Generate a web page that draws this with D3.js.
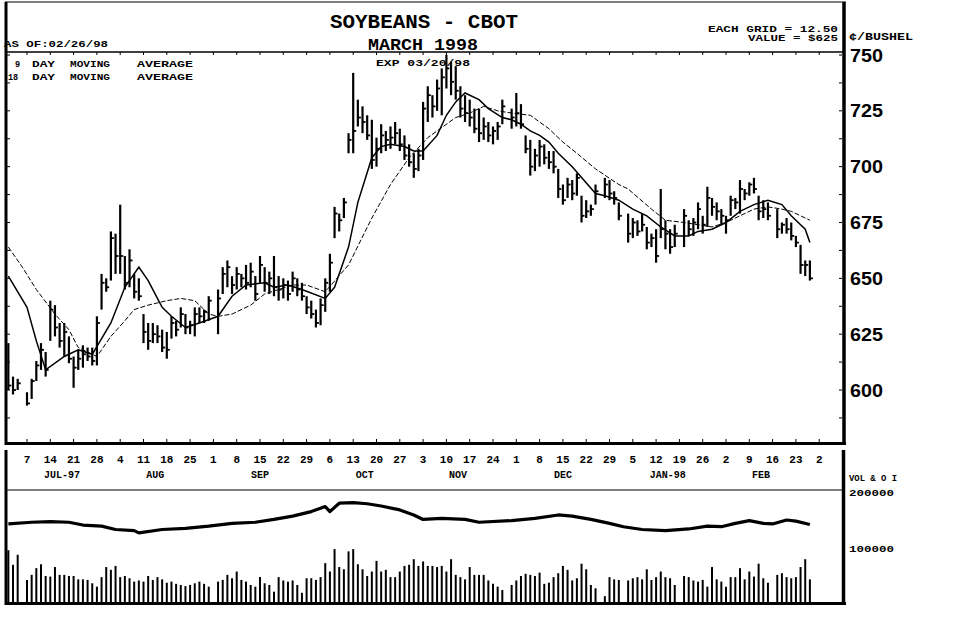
<!DOCTYPE html>
<html>
<head>
<meta charset="utf-8">
<script src="https://cdn.jsdelivr.net/npm/d3@7"></script>
<style>
  body { margin: 0; background: #fff; }
  svg text { font-family: "Liberation Mono", "DejaVu Sans Mono", monospace; font-weight: bold; fill: #000; }
</style>
</head>
<body>
<div id="chart"></div>
<script>
const W = 958, H = 618;

// daily bars, 07/01/97 .. 02/26/98, one slot per weekday (null = exchange closed)
const highs = [
  621, 606, 605, null, 599, 605, 613, 621, 617, 640,
  638, 630, 630, 624, 615, 618, 620, 619, 619, 633,
  652, 650, 671, 670, 683, 660, 663, 652, 650, 634,
  630, 630, 629, 627, 626, 633, 631, 637, 634, 631,
  637, 637, 636, 642, null, 645, 655, 658, 651, 655,
  652, 656, 657, 651, 660, 655, 653, 660, 651, 650,
  649, 653, 650, 648, 642, 640, 636, 641, 650, 661,
  682, 679, 686, 715, 742, 730, 727, 723, 721, 713,
  719, 716, 718, 720, 717, 714, 710, 706, 708, 729,
  736, 732, 739, 744, 750, 747, 745, 736, 732, 730,
  726, 726, 722, 720, 718, 720, 730, null, 726, 733,
  728, 714, 712, 708, 712, 710, 707, 707, 699, 692,
  695, 694, 697, 687, 685, 683, 692, null, 695, 694,
  689, 684, null, 679, 677, 676, 679, 673, 670, 672,
  690, 676, 672, 674, null, 681, 676, 677, 684, 678,
  691, 686, 684, 681, 678, 687, 686, 694, 690, 693,
  695, 687, 685, 684, null, 681, 675, 677, 675, 669,
  665, 658, 658
];
const lows = [
  600, 598, 600, null, 593, 596, 604, 609, 606, 622,
  624, 619, 615, 612, 601, 609, 610, 613, 611, 611,
  636, 644, 649, 652, 652, 645, 646, 641, 640, 621,
  618, 621, 621, 617, 614, 623, 624, 628, 625, 625,
  624, 630, 630, 631, null, 625, 643, 646, 643, 645,
  646, 645, 646, 640, 648, 644, 643, 642, 640, 641,
  640, 644, 642, 640, 634, 632, 628, 629, 635, 644,
  668, 671, 677, 706, 706, 718, 715, 712, 699, 700,
  706, 707, 708, 710, 707, 703, 700, 695, 698, 703,
  720, 722, 725, 723, 735, 732, 730, 722, 720, 718,
  715, 711, 712, 711, 710, 712, 719, null, 717, 718,
  717, 706, 696, 698, 700, 701, 699, 697, 686, 683,
  686, 685, 687, 675, 677, 678, 683, null, 686, 685,
  683, 676, null, 666, 668, 669, 671, 663, 664, 657,
  668, 663, 661, 664, null, 664, 669, 669, 672, 670,
  673, 678, 676, 674, 670, 678, 681, 679, 685, 687,
  688, 676, 677, 676, null, 668, 670, 670, 667, 664,
  652, 651, 649
];
const closes = [
  602, 600, 603, null, 594, 604, 611, 618, 609, 636,
  628, 622, 626, 614, 610, 614, 616, 615, 613, 630,
  648, 646, 668, 660, 660, 648, 658, 644, 642, 626,
  622, 625, 624, 619, 618, 630, 627, 634, 628, 629,
  634, 633, 635, 640, null, 641, 652, 655, 647, 652,
  650, 648, 653, 643, 656, 648, 650, 646, 645, 647,
  643, 650, 645, 642, 637, 634, 630, 638, 648, 657,
  679, 676, 684, 712, 716, 722, 720, 714, 703, 708,
  714, 712, 713, 715, 710, 705, 702, 699, 705, 726,
  732, 727, 735, 740, 744, 738, 734, 726, 724, 722,
  717, 715, 718, 714, 716, 718, 727, null, 722, 724,
  719, 708, 700, 705, 709, 704, 702, 700, 690, 685,
  692, 688, 695, 678, 680, 681, 689, null, 692, 688,
  686, 678, null, 670, 675, 671, 674, 666, 668, 660,
  672, 670, 664, 670, null, 678, 672, 675, 681, 674,
  686, 682, 680, 678, 676, 685, 684, 690, 688, 692,
  690, 680, 681, 678, null, 672, 674, 672, 669, 666,
  656, 656, 650
];
// daily volume, thousands of contracts
const volume = [
  96, 70, 88, null, 43, 52, 64, 71, 50, 49,
  66, 52, 52, 50, 50, 44, 44, 43, 37, 31,
  48, 66, 61, 68, 48, 50, 46, 40, 42, 40,
  50, 43, 48, 44, 38, 40, 36, 34, 32, 34,
  37, 40, 36, 31, null, 40, 43, 52, 46, 58,
  43, 40, 34, 31, 48, 37, 34, 22, 48, 42,
  40, 42, 34, 20, 46, 46, 43, 48, 73, 58,
  98, 66, 62, 94, 98, 71, 62, 50, 58, 77,
  58, 61, 48, 48, 58, 68, 70, 80, 68, 76,
  68, 68, 66, 68, 58, 80, 52, 48, 44, 66,
  52, 52, 52, 42, 36, 31, 25, null, 34, 42,
  50, 54, 52, 50, 56, 36, 38, 48, 55, 68,
  61, 42, 46, 72, 62, 34, 28, null, 14, 48,
  44, 43, null, 42, 46, 48, 44, 62, 43, 48,
  58, 48, 46, 34, null, 50, 48, 42, 40, 43,
  31, 66, 44, 40, 31, 48, 48, 64, 44, 58,
  49, 72, 46, 38, null, 52, 55, 48, 46, 48,
  66, 80, 44
];

// moving averages (weekday number from 06/30/97)
const ma9Day = [1, 5, 7, 9, 13, 16, 19, 23, 26, 29, 31, 34, 36, 39, 42, 46, 49, 52, 56, 58,
  61, 64, 69, 71, 74, 76, 79, 81, 83, 86, 88, 90, 93, 95, 97, 99, 102, 104, 107, 109,
  111, 113, 115, 117, 119, 122, 127, 129, 132, 135, 138, 141, 144, 147, 149, 152, 155, 158, 161, 164,
  167, 169, 172, 173];
const ma9 = [651, 637, 622, 609, 615, 618, 616, 630, 646, 655, 649, 637, 633, 628, 630, 633, 642, 647, 648, 646,
  647, 645, 641, 646, 664, 684, 704, 709, 710, 709, 707, 707, 714, 723, 729, 733, 730, 726, 722, 721,
  719, 716, 714, 711, 706, 700, 688, 687, 685, 681, 678, 673, 669, 669, 671, 672, 675, 680, 683, 685,
  683, 678, 672, 666];
const ma18Day = [1, 4, 7, 11, 14, 16, 20, 23, 26, 28, 31, 35, 38, 41, 44, 46, 49, 53, 56, 59,
  62, 65, 69, 74, 79, 83, 87, 91, 97, 100, 103, 106, 109, 113, 117, 120, 123, 127, 132, 134,
  139, 142, 146, 149, 152, 155, 158, 161, 164, 167, 169, 172, 173];
const ma18 = [664, 655, 645, 634, 627, 619, 615, 624, 631, 636, 638, 640, 641, 640, 634, 633, 634, 638, 643, 645,
  647, 647, 644, 656, 677, 692, 704, 713, 722, 724, 727, 725, 724, 723, 717, 711, 706, 699, 692, 690,
  681, 676, 675, 674, 673, 675, 678, 681, 682, 681, 680, 677, 676];

// open interest, thousands of contracts
const oiDay = [1, 6, 10, 14, 17, 21, 24, 28, 29, 34, 39, 44, 49, 54, 58, 62, 66, 69, 70, 72,
  75, 78, 81, 85, 88, 90, 94, 99, 102, 109, 114, 119, 122, 126, 130, 133, 137, 142, 147, 151,
  154, 157, 160, 163, 165, 168, 170, 173];
const openInt = [143, 146, 147, 146, 141, 139, 133, 131, 127, 133, 135, 139, 144, 146, 151, 157, 165, 174, 165, 180,
  181, 179, 175, 168, 159, 151, 153, 151, 146, 149, 153, 159, 157, 151, 144, 138, 133, 131, 134, 139,
  138, 144, 149, 144, 143, 150, 148, 142];

const priceTicks = [600, 625, 650, 675, 700, 725, 750];
const volTicks = [100000, 200000];
const monthNames = ["JUL-97", "AUG", "SEP", "OCT", "NOV", "DEC", "JAN-98", "FEB"];

// weekdays from 06/30/97 to 03/02/98
const days = d3.timeDay.range(new Date(1997, 5, 30), new Date(1998, 2, 3))
  .filter(d => d.getDay() > 0 && d.getDay() < 6);

const x = d3.scaleLinear().domain([0, days.length - 1]).range([3.7, 819.2]);
const y = d3.scaleLinear().domain([600, 750]).range([390, 55]);
const yv = d3.scaleLinear().domain([0, 200000]).range([604, 492]);

const svg = d3.select("#chart").append("svg")
  .attr("width", W).attr("height", H);

function line(x1, y1, x2, y2, w) {
  svg.append("line")
    .attr("x1", x1).attr("y1", y1).attr("x2", x2).attr("y2", y2)
    .attr("stroke", "#000").attr("stroke-width", w);
}
function label(tx, ty, str, size, anchor, len) {
  const t = svg.append("text")
    .attr("x", tx).attr("y", ty)
    .attr("font-size", size)
    .attr("text-anchor", anchor || "start")
    .style("white-space", "pre")
    .text(str);
  if (len) t.attr("textLength", len).attr("lengthAdjust", "spacingAndGlyphs");
  return t;
}

// frame
line(5, 2, 846, 2, 1);
line(6, 2, 6, 445, 3);
line(844, 2, 844, 445, 3.5);
line(5, 52, 845, 52, 1.5);
line(5, 443.5, 846, 443.5, 3);
line(6, 450, 6, 605, 3);
line(843.5, 450, 843.5, 605, 3.5);
line(5, 490, 845, 490, 1.2);
line(5, 603.5, 846, 603.5, 3);

const mondays = days.map((d, i) => ({ d, i })).filter(o => o.d.getDay() === 1 && o.i > 0);

// small ticks on the price panel edges
mondays.forEach(o => {
  line(x(o.i), 52, x(o.i), 55, 1);
  line(x(o.i), 439, x(o.i), 442, 1);
});
d3.range(587.5, 751, 12.5).forEach(p => {
  line(7, y(p), 10, y(p), 1);
  line(839, y(p), 842, y(p), 1);
});

// price bars
const bars = highs.map((h, k) => ({ i: k + 1, h, l: lows[k], c: closes[k] }))
  .filter(b => b.h != null);
svg.append("g").selectAll("line").data(bars).join("line")
  .attr("x1", b => x(b.i)).attr("x2", b => x(b.i))
  .attr("y1", b => y(b.h)).attr("y2", b => y(b.l))
  .attr("stroke", "#000").attr("stroke-width", 2.2);
svg.append("g").selectAll("line").data(bars).join("line")
  .attr("x1", b => x(b.i)).attr("x2", b => x(b.i) + 3)
  .attr("y1", b => y(b.c)).attr("y2", b => y(b.c))
  .attr("stroke", "#000").attr("stroke-width", 1.8);

// moving averages
const maLine = d3.line().x(d => x(d[0])).y(d => y(d[1]));
svg.append("path")
  .attr("d", maLine(ma9Day.map((d, k) => [d, ma9[k]])))
  .attr("fill", "none").attr("stroke", "#000").attr("stroke-width", 1.5);
svg.append("path")
  .attr("d", maLine(ma18Day.map((d, k) => [d, ma18[k]])))
  .attr("fill", "none").attr("stroke", "#000").attr("stroke-width", 1)
  .attr("stroke-dasharray", "5,2");

// volume bars
const vols = volume.map((v, k) => ({ i: k + 1, v })).filter(o => o.v != null);
svg.append("g").selectAll("line").data(vols).join("line")
  .attr("x1", o => x(o.i)).attr("x2", o => x(o.i))
  .attr("y1", o => yv(o.v * 1000)).attr("y2", 603)
  .attr("stroke", "#000").attr("stroke-width", 2);

// open interest
svg.append("path")
  .attr("d", d3.line().x(d => x(d[0])).y(d => yv(d[1] * 1000))(oiDay.map((d, k) => [d, openInt[k]])))
  .attr("fill", "none").attr("stroke", "#000").attr("stroke-width", 3.2)
  .attr("stroke-linejoin", "round");

// date axis
svg.append("g").selectAll("text").data(mondays).join("text")
  .attr("x", o => x(o.i)).attr("y", 463)
  .attr("font-size", 11).attr("text-anchor", "middle")
  .text(o => o.d.getDate());
const months = d3.groups(mondays, o => o.d.getFullYear() * 12 + o.d.getMonth());
months.forEach(([key, list], k) => {
  if (!monthNames[k]) return;
  label(d3.mean(list, o => x(o.i)), 478, monthNames[k], 10, "middle");
});

// price axis
priceTicks.forEach(p => label(850, y(p) + 6.5, String(p), 18, "start", 33)
  .style("font-family", "'Liberation Sans', Arial, sans-serif"));
label(849, 40, "¢/BUSHEL", 10, "start", 64);

// volume axis
label(849, 481, "VOL & O I", 9, "start", 48);
volTicks.forEach(v => label(849, yv(v) + 4, String(v), 9, "start", 45));

// header
label(424, 28, "SOYBEANS - CBOT", 20, "middle", 188);
label(423, 50, "MARCH 1998", 17, "middle", 110);
label(4, 47, "AS OF:02/26/98", 9, "start", 104);
label(838, 32, "EACH GRID = 12.50", 8.5, "end", 130);
label(838, 41, "VALUE = $625", 8.5, "end", 90);
label(376, 66, "EXP 03/20/98", 8.5, "start", 94);

[["9", 15, 66.5], ["18", 8, 80]].forEach(([n, nx, ny]) => {
  label(nx, ny, n, 8.5, "start");
  label(32, ny, "DAY", 8.5, "start", 23);
  label(70, ny, "MOVING", 8.5, "start", 40);
  label(137, ny, "AVERAGE", 8.5, "start", 56);
});
</script>
</body>
</html>
